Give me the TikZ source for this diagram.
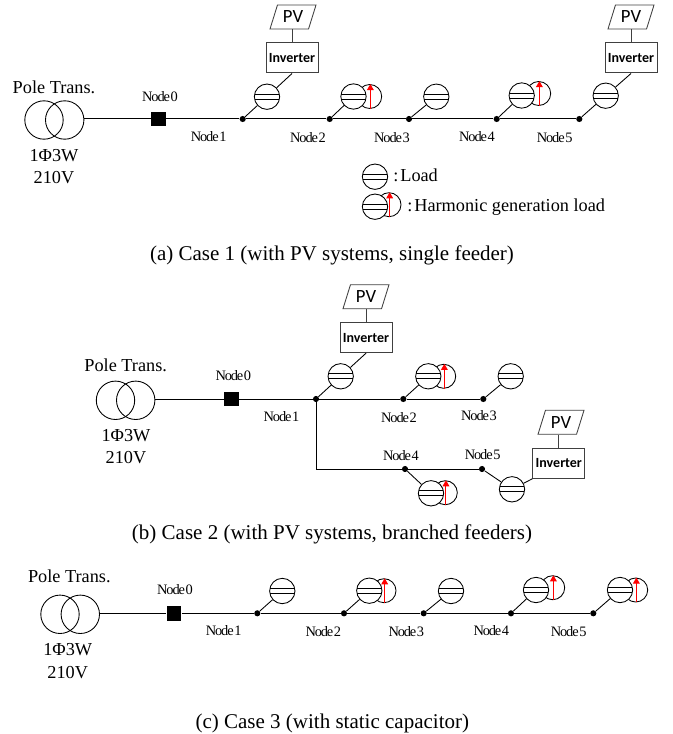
\documentclass[tikz,border=0pt]{standalone}
\usepackage{fontspec}
\setmainfont{Liberation Serif}
\newfontfamily\calib{Carlito}
\newfontfamily\tight[LetterSpace=-8]{Liberation Serif}
\usetikzlibrary{shapes.geometric,arrows.meta}
\definecolor{boxline}{HTML}{404040}
\tikzset{
  wire/.style={line width=0.75pt,black},
  thin wire/.style={line width=0.65pt,black},
  bigtext/.style={inner sep=0pt,font=\fontsize{13.7pt}{16pt}\selectfont},
  captext/.style={inner sep=0pt,font=\fontsize{15.75pt}{18pt}\selectfont},
  nodetext/.style={inner sep=0pt,yshift=-0.5pt,font=\tight\fontsize{10.8pt}{12pt}\selectfont},
  xfmr/.style={circle,draw,line width=0.65pt,inner sep=0pt,minimum size=28.8pt},
  busbar/.style={rectangle,fill=black,inner sep=0pt,minimum size=11pt},
  dot/.style={circle,fill=black,inner sep=0pt,minimum size=4.6pt},
  loadc/.style={circle,draw,fill=white,line width=0.65pt,inner sep=0pt,minimum size=19pt,
    path picture={
      \draw[line width=0.65pt] ([yshift=1.9pt]path picture bounding box.west) -- ([yshift=1.9pt]path picture bounding box.east);
      \draw[line width=0.65pt] ([yshift=-1.9pt]path picture bounding box.west) -- ([yshift=-1.9pt]path picture bounding box.east);
    }},
  harmc/.style={circle,draw,fill=white,line width=0.65pt,inner sep=0pt,minimum size=18pt},
  harmarrow/.style={red,line width=0.75pt,-{Triangle[length=4.5pt,width=5pt]}},
  inv/.style={rectangle,draw=boxline,line width=0.75pt,inner sep=0pt,minimum width=39pt,minimum height=22.5pt,
    font=\calib\bfseries\fontsize{10.5pt}{12pt}\selectfont},
  pvbox/.style={trapezium,draw=boxline,line width=0.65pt,trapezium left angle=68,trapezium right angle=112,
    inner sep=0pt,minimum height=18pt,trapezium stretches=true,minimum width=34.5pt,
    font=\calib\fontsize{14pt}{16pt}\selectfont},
  grayline/.style={boxline,line width=0.75pt},
}
\newcommand{\harmarr}[1]{\draw[harmarrow] ([xshift=0.5pt]#1.south) -- ([xshift=0.5pt]#1.north);}
\newcommand{\nn}[1]{Node\hspace{0.5pt}#1}
\begin{document}
\begin{tikzpicture}[x=0.75pt,y=-0.75pt]
\useasboundingbox (0,0) rectangle (673,734);
% ---------- Case 1
\node[xfmr] (a1) at (44,120) {};
\node[xfmr] (a2) at (64.7,120) {};
\node[bigtext] (atp) at (54,87) {Pole Trans.};
\node[bigtext] (atw) at (54,156) {1Φ3W};
\node[bigtext] (atv) at (54,178) {210V};
\node[busbar] (an0) at (158.5,119) {};
\node[dot] (an1) at (242.7,119) {};
\node[dot] (an2) at (329.7,119) {};
\node[dot] (an3) at (409,119) {};
\node[dot] (an4) at (496.7,119) {};
\node[dot] (an5) at (579.3,119) {};
\draw[wire] (a2.east |- an0) -- (an0) -- (an1) -- (an2) -- (an3) -- (an4) -- (an5);
\node[loadc] (al1) at (267,96.7) {};
\node[harmc] (ah2) at (369.7,96.5) {};
\node[loadc] (al2) at (353.5,96.5) {};
\node[loadc] (al3) at (436.3,96.7) {};
\node[harmc] (ah4) at (538.7,93.5) {};
\node[loadc] (al4) at (521.7,95.5) {};
\node[loadc] (al5) at (605.7,95.7) {};
\harmarr{ah2}\harmarr{ah4}
\draw[thin wire] (an1) -- (al1);
\draw[thin wire] (an2) -- (al2);
\draw[thin wire] (an3) -- (al3);
\draw[thin wire] (an4) -- (al4);
\draw[thin wire] (an5) -- (al5);
\node[inv] (ai1) at (292,58) {Inverter};
\node[pvbox] (ap1) at (293,17) {PV};
\draw[grayline] (ap1.south -| ai1.north) -- (ai1.north);
\draw[thin wire] (ai1.south) -- (al1);
\node[inv] (ai5) at (631,58) {Inverter};
\node[pvbox] (ap5) at (631,17) {PV};
\draw[grayline] (ap5.south -| ai5.north) -- (ai5.north);
\draw[thin wire] (ai5.south) -- (al5);
\node[nodetext] (at0) at (160,95.5) {\nn0};
\node[nodetext] (at1) at (208.7,136) {\nn1};
\node[nodetext] (at2) at (308,137) {\nn2};
\node[nodetext] (at3) at (392,137) {\nn3};
\node[nodetext] (at4) at (477,136) {\nn4};
\node[nodetext] (at5) at (554.7,137) {\nn5};
% legend
\node[loadc] (ll) at (375,176.7) {};
\node[harmc] (lh2) at (389,204.7) {};
\node[loadc] (lh1) at (375,206.7) {};
\harmarr{lh2}
\node[bigtext,anchor=west] (llt) at (393,175) {:\hspace{1.5pt}Load};
\node[bigtext,anchor=west] (lht) at (407,207.5) {:\hspace{1.5pt}Harmonic generation load};
\node[captext] (capa) at (332,255) {(a) Case 1 (with PV systems, single feeder)};
% ---------- Case 2
\node[xfmr] (b1) at (115.5,400.3) {};
\node[xfmr] (b2) at (135.7,400.3) {};
\node[bigtext] (btp) at (125.7,365) {Pole Trans.};
\node[bigtext] (btw) at (126,436) {1Φ3W};
\node[bigtext] (btv) at (126,458) {210V};
\node[busbar] (bn0) at (231.7,399) {};
\node[dot] (bn1) at (316,399) {};
\node[dot] (bn2) at (403.3,399) {};
\node[dot] (bn3) at (483.3,399) {};
\node[dot] (bn4) at (405,469) {};
\node[dot] (bn5) at (482,469) {};
\draw[wire] (b2.east |- bn0) -- (bn0) -- (bn1) -- (bn2) -- (bn3);
\draw[wire] (bn1) |- (bn4);
\draw[wire] (bn4) -- (bn5);
\node[loadc] (bl1) at (340.7,376.3) {};
\node[harmc] (bh2) at (443.7,376.3) {};
\node[loadc] (bl2) at (428.3,376.3) {};
\node[loadc] (bl3) at (510.7,376.3) {};
\node[harmc] (bh4) at (445.3,492.7) {};
\node[loadc] (bl4) at (431,493.3) {};
\node[loadc] (bl5) at (512,489.3) {};
\harmarr{bh2}\harmarr{bh4}
\draw[thin wire] (bn1) -- (bl1);
\draw[thin wire] (bn2) -- (bl2);
\draw[thin wire] (bn3) -- (bl3);
\draw[thin wire] (bn4) -- (bl4);
\draw[thin wire] (bn5) -- (bl5);
\node[inv] (bi1) at (366,337.7) {Inverter};
\node[pvbox] (bp1) at (366,296.7) {PV};
\draw[grayline] (bp1.south -| bi1.north) -- (bi1.north);
\draw[thin wire] (bi1.south) -- (bl1);
\node[inv] (bi5) at (558.8,463.3) {Inverter};
\node[pvbox] (bp5) at (561,422.3) {PV};
\draw[grayline] (bp5.south -| bi5.north) -- (bi5.north);
\draw[thin wire] (bi5.south west) -- (bl5);
\node[nodetext] (bt0) at (233.3,375) {\nn0};
\node[nodetext] (bt1) at (281.5,415.5) {\nn1};
\node[nodetext] (bt2) at (399,417) {\nn2};
\node[nodetext] (bt3) at (479,415) {\nn3};
\node[nodetext] (bt4) at (401,455) {\nn4};
\node[nodetext] (bt5) at (482.7,454) {\nn5};
\node[captext] (capb) at (332,534) {(b) Case 2 (with PV systems, branched feeders)};
% ---------- Case 3
\node[xfmr] (c1) at (60,614.3) {};
\node[xfmr] (c2) at (80.3,614.3) {};
\node[bigtext] (ctp) at (69.3,576) {Pole Trans.};
\node[bigtext] (ctw) at (67.7,650) {1Φ3W};
\node[bigtext] (ctv) at (67.7,672.5) {210V};
\node[busbar] (cn0) at (174,613.3) {};
\node[dot] (cn1) at (257.3,613.3) {};
\node[dot] (cn2) at (344,613.3) {};
\node[dot] (cn3) at (423.7,613.3) {};
\node[dot] (cn4) at (511,613.3) {};
\node[dot] (cn5) at (593.3,613.3) {};
\draw[wire] (c2.east |- cn0) -- (cn0) -- (cn1) -- (cn2) -- (cn3) -- (cn4) -- (cn5);
\node[loadc] (cl1) at (282.3,591) {};
\node[harmc] (ch2) at (384,590.7) {};
\node[loadc] (cl2) at (369.3,590.7) {};
\node[loadc] (cl3) at (451,591) {};
\node[harmc] (ch4) at (552.7,587.7) {};
\node[loadc] (cl4) at (536,590) {};
\node[harmc] (ch5) at (635.7,590) {};
\node[loadc] (cl5) at (620,590) {};
\harmarr{ch2}\harmarr{ch4}\harmarr{ch5}
\draw[thin wire] (cn1) -- (cl1);
\draw[thin wire] (cn2) -- (cl2);
\draw[thin wire] (cn3) -- (cl3);
\draw[thin wire] (cn4) -- (cl4);
\draw[thin wire] (cn5) -- (cl5);
\node[nodetext] (ct0) at (175,589.3) {\nn0};
\node[nodetext] (ct1) at (223.7,630) {\nn1};
\node[nodetext] (ct2) at (323.3,631) {\nn2};
\node[nodetext] (ct3) at (406.3,631) {\nn3};
\node[nodetext] (ct4) at (491.3,630) {\nn4};
\node[nodetext] (ct5) at (568.7,631) {\nn5};
\node[captext] (capc) at (332.3,723) {(c) Case 3 (with static capacitor)};
\end{tikzpicture}
\end{document}
